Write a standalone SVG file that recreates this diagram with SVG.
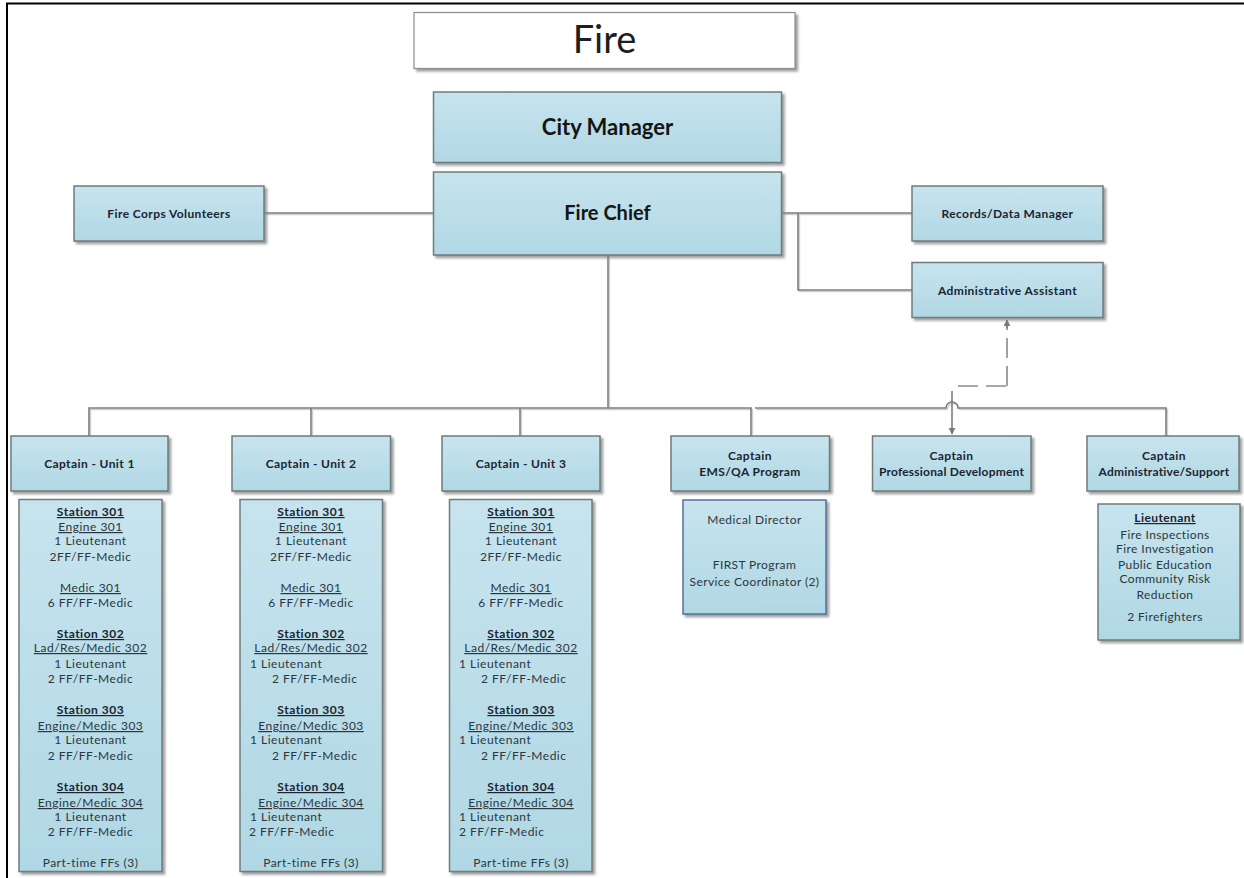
<svg xmlns="http://www.w3.org/2000/svg" width="1244" height="878" viewBox="0 0 1244 878">
<defs>
<linearGradient id="bg" x1="0" y1="0" x2="0" y2="1">
<stop offset="0" stop-color="#c7e4ee"/>
<stop offset="1" stop-color="#b0d8e4"/>
</linearGradient>
<filter id="sh" x="-10%" y="-10%" width="120%" height="120%">
<feDropShadow dx="2.5" dy="2.5" stdDeviation="1" flood-color="#808080" flood-opacity="0.75"/>
</filter>
<marker id="ah" viewBox="0 0 10 10" refX="9" refY="5" markerWidth="7" markerHeight="7" orient="auto-start-reverse" markerUnits="userSpaceOnUse">
<path d="M0,0 L10,5 L0,10 z" fill="#7a7a7a"/>
</marker>
<style>
.box{fill:url(#bg);stroke:#6f7b7b;stroke-width:1.5;filter:url(#sh)}
.ems{fill:url(#bg);stroke:#56709a;stroke-width:1.5;filter:url(#sh)}
.title{fill:#ffffff;stroke:#8c8c8c;stroke-width:1.2;filter:url(#sh)}
text{font-family:Lato,"Liberation Sans",sans-serif;fill:#2b3640}
.t0{font-size:38px;fill:#1e1e1e;text-anchor:middle}
.t1{font-size:20px;font-weight:bold;fill:#151515;text-anchor:middle}
.t2{font-size:12px;letter-spacing:0.4px;font-weight:bold;fill:#1c2430;text-anchor:middle}
.b{font-size:12px;letter-spacing:0.5px;text-anchor:middle}
.l{font-size:12px;letter-spacing:0.5px;text-anchor:start}
.h{font-weight:bold;fill:#1c2430;text-decoration:underline}
.u{text-decoration:underline}
.s{font-size:12px;letter-spacing:0.4px;text-anchor:middle}
.c{fill:none;stroke:#7d7d7d;stroke-width:1.6}
.cs{fill:none;stroke:#cfcfcf;stroke-width:1.4}
.d{fill:none;stroke:#8a8a8a;stroke-width:1.6;stroke-dasharray:20 8}
</style>
</defs>
<rect x="0" y="0" width="1244" height="878" fill="#ffffff"/>
<g id="page-border">
<line x1="6" y1="3.5" x2="1244" y2="3.5" stroke="#000" stroke-width="2"/>
<line x1="7" y1="3" x2="7" y2="878" stroke="#000" stroke-width="2"/>
</g>
<g id="connectors">
<g transform="translate(1.5,1.5)">
<path class="cs" d="M264,213 H433"/>
<path class="cs" d="M782,213 H912 M798,213 V290 H912"/>
<path class="cs" d="M608,255 V408"/>
<path class="cs" d="M89,436 V408 H751 V436 M311,408 V436 M520,408 V436 M755,408 H946 A6,6 0 0 1 958,408 H1166 V436"/>
</g>
<path class="c" d="M264,213 H433"/>
<path class="c" d="M782,213 H912"/>
<path class="c" d="M798,213 V290 H912"/>
<path class="c" d="M608,255 V408"/>
<path class="c" d="M89,436 V408 H751 V436"/>
<path class="c" d="M311,408 V436"/>
<path class="c" d="M520,408 V436"/>
<path class="c" d="M755,408 H946 A6,6 0 0 1 958,408 H1166 V436"/>
<path class="d" d="M1007,386 V324"/>
<path class="d" d="M958,386 H1007"/>
<path class="c" d="M952,391 V434" marker-end="url(#ah)"/>
<path d="M1007,328 V320" class="c" marker-end="url(#ah)"/>
</g>
<g id="title">
<rect class="title" x="414" y="12.5" width="381" height="56"/>
<text class="t0" x="604.5" y="53">Fire</text>
</g>
<g id="city-manager">
<rect class="box" x="433.5" y="92" width="348" height="70.5"/>
<text class="t1" x="607.5" y="135" style="font-size:22px">City Manager</text>
</g>
<g id="fire-chief">
<rect class="box" x="433.5" y="172" width="348" height="83"/>
<text class="t1" x="607.5" y="220">Fire Chief</text>
</g>
<g id="fire-corps">
<rect class="box" x="74" y="186" width="190" height="55"/>
<text class="t2" x="169" y="218">Fire Corps Volunteers</text>
</g>
<g id="records">
<rect class="box" x="912" y="186" width="191" height="55"/>
<text class="t2" x="1007.5" y="218">Records/Data Manager</text>
</g>
<g id="admin-assistant">
<rect class="box" x="912" y="262.5" width="191" height="55"/>
<text class="t2" x="1007.5" y="295">Administrative Assistant</text>
</g>
<g id="captain-unit1">
<rect class="box" x="11" y="436" width="157" height="55"/>
<text class="t2" x="89.5" y="468">Captain - Unit 1</text>
</g>
<g id="captain-unit2">
<rect class="box" x="232" y="436" width="158.5" height="55"/>
<text class="t2" x="311" y="468">Captain - Unit 2</text>
</g>
<g id="captain-unit3">
<rect class="box" x="442" y="436" width="158" height="55"/>
<text class="t2" x="521" y="468">Captain - Unit 3</text>
</g>
<g id="captain-ems">
<rect class="box" x="671" y="436" width="158.5" height="55"/>
<text class="t2" x="750" y="460">Captain</text>
<text class="t2" x="750" y="476">EMS/QA Program</text>
</g>
<g id="captain-profdev">
<rect class="box" x="872.5" y="436" width="158.5" height="55"/>
<text class="t2" x="951.5" y="460">Captain</text>
<text class="t2" x="951.5" y="476" style="letter-spacing:0.2px">Professional Development</text>
</g>
<g id="captain-admin">
<rect class="box" x="1087" y="436" width="152" height="55"/>
<text class="t2" x="1164" y="460">Captain</text>
<text class="t2" x="1164" y="476" style="letter-spacing:0.2px">Administrative/Support</text>
</g>
<g id="unit1-stations">
<rect class="box" x="19" y="499.5" width="143" height="372"/>
<text class="b h" x="90.5" y="516">Station 301</text>
<text class="b u" x="90.5" y="531">Engine 301</text>
<text class="b" x="90.5" y="545">1 Lieutenant</text>
<text class="b" x="90.5" y="561">2FF/FF-Medic</text>
<text class="b u" x="90.5" y="592">Medic 301</text>
<text class="b" x="90.5" y="607">6 FF/FF-Medic</text>
<text class="b h" x="90.5" y="638">Station 302</text>
<text class="b u" x="90.5" y="652">Lad/Res/Medic 302</text>
<text class="b" x="90.5" y="668">1 Lieutenant</text>
<text class="b" x="90.5" y="683">2 FF/FF-Medic</text>
<text class="b h" x="90.5" y="714">Station 303</text>
<text class="b u" x="90.5" y="730">Engine/Medic 303</text>
<text class="b" x="90.5" y="744">1 Lieutenant</text>
<text class="b" x="90.5" y="760">2 FF/FF-Medic</text>
<text class="b h" x="90.5" y="791">Station 304</text>
<text class="b u" x="90.5" y="807">Engine/Medic 304</text>
<text class="b" x="90.5" y="821">1 Lieutenant</text>
<text class="b" x="90.5" y="836">2 FF/FF-Medic</text>
<text class="b" x="90.5" y="867">Part-time FFs (3)</text>
</g>
<g id="unit2-stations">
<rect class="box" x="240" y="499.5" width="142.5" height="372"/>
<text class="b h" x="311" y="516">Station 301</text>
<text class="b u" x="311" y="531">Engine 301</text>
<text class="b" x="311" y="545">1 Lieutenant</text>
<text class="b" x="311" y="561">2FF/FF-Medic</text>
<text class="b u" x="311" y="592">Medic 301</text>
<text class="b" x="311" y="607">6 FF/FF-Medic</text>
<text class="b h" x="311" y="638">Station 302</text>
<text class="b u" x="311" y="652">Lad/Res/Medic 302</text>
<text class="l" x="250" y="668">1 Lieutenant</text>
<text class="l" x="272" y="683">2 FF/FF-Medic</text>
<text class="b h" x="311" y="714">Station 303</text>
<text class="b u" x="311" y="730">Engine/Medic 303</text>
<text class="l" x="250" y="744">1 Lieutenant</text>
<text class="l" x="272" y="760">2 FF/FF-Medic</text>
<text class="b h" x="311" y="791">Station 304</text>
<text class="b u" x="311" y="807">Engine/Medic 304</text>
<text class="l" x="250" y="821">1 Lieutenant</text>
<text class="l" x="249" y="836">2 FF/FF-Medic</text>
<text class="b" x="311" y="867">Part-time FFs (3)</text>
</g>
<g id="unit3-stations">
<rect class="box" x="449.5" y="499.5" width="142.5" height="372"/>
<text class="b h" x="521" y="516">Station 301</text>
<text class="b u" x="521" y="531">Engine 301</text>
<text class="b" x="521" y="545">1 Lieutenant</text>
<text class="b" x="521" y="561">2FF/FF-Medic</text>
<text class="b u" x="521" y="592">Medic 301</text>
<text class="b" x="521" y="607">6 FF/FF-Medic</text>
<text class="b h" x="521" y="638">Station 302</text>
<text class="b u" x="521" y="652">Lad/Res/Medic 302</text>
<text class="l" x="459" y="668">1 Lieutenant</text>
<text class="l" x="481" y="683">2 FF/FF-Medic</text>
<text class="b h" x="521" y="714">Station 303</text>
<text class="b u" x="521" y="730">Engine/Medic 303</text>
<text class="l" x="459" y="744">1 Lieutenant</text>
<text class="l" x="481" y="760">2 FF/FF-Medic</text>
<text class="b h" x="521" y="791">Station 304</text>
<text class="b u" x="521" y="807">Engine/Medic 304</text>
<text class="l" x="459" y="821">1 Lieutenant</text>
<text class="l" x="459" y="836">2 FF/FF-Medic</text>
<text class="b" x="521" y="867">Part-time FFs (3)</text>
</g>
<g id="ems-staff">
<rect class="ems" x="683" y="500" width="143" height="114"/>
<text class="s" x="754.5" y="524">Medical Director</text>
<text class="s" x="754.5" y="569">FIRST Program</text>
<text class="s" x="754.5" y="586">Service Coordinator (2)</text>
</g>
<g id="admin-staff">
<rect class="box" x="1098" y="504" width="142" height="136"/>
<text class="s h" x="1165" y="522">Lieutenant</text>
<text class="s" x="1165" y="539">Fire Inspections</text>
<text class="s" x="1165" y="553">Fire Investigation</text>
<text class="s" x="1165" y="569">Public Education</text>
<text class="s" x="1165" y="583">Community Risk</text>
<text class="s" x="1165" y="599">Reduction</text>
<text class="s" x="1165" y="621">2 Firefighters</text>
</g>
</svg>
